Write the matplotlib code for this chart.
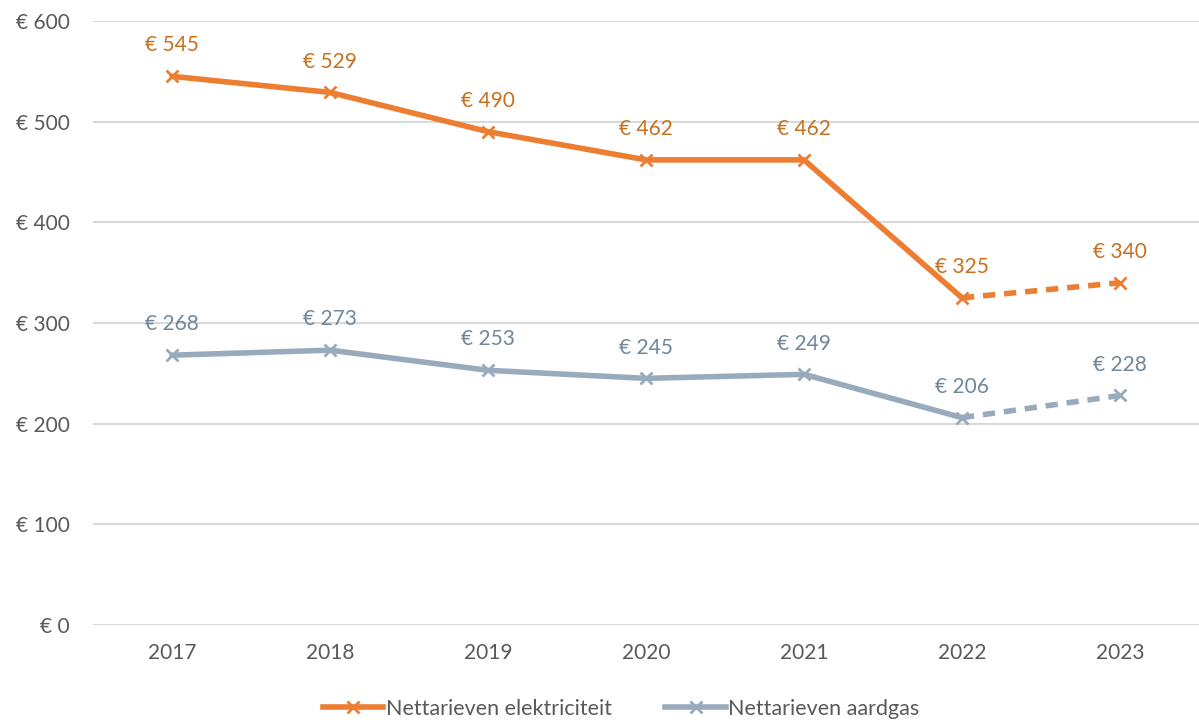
import numpy as np
import matplotlib.pyplot as plt
from matplotlib.lines import Line2D

# data
jaren = ['2017', '2018', '2019', '2020', '2021', '2022', '2023']
elektriciteit = [545, 529, 490, 462, 462, 325, 340]
aardgas = [268, 273, 253, 245, 249, 206, 228]
yticks = [0, 100, 200, 300, 400, 500, 600]

oranje = '#ED7D31'
oranje_tekst = '#C5711F'
grijs = '#97ABBD'
grijs_tekst = '#6F8799'

plt.rcParams['font.family'] = ['Lato', 'DejaVu Sans']

fig = plt.figure(figsize=(11.99, 7.22), dpi=100)
ax = fig.add_axes([0.0776, 0.1343, 0.9224, 0.8367])

x = np.arange(len(jaren))
n = len(jaren) - 2  # laatste stuk gestippeld


def teken(waarden, kleur, tekstkleur):
    ax.plot(x[:n + 1], waarden[:n + 1], color=kleur, lw=4, solid_capstyle='round', zorder=3)
    ax.plot(x[n:], waarden[n:], color=kleur, lw=4, ls=(0, (2.2, 1.6)), zorder=3)
    ax.plot(x, waarden, ls='none', marker='x', ms=9, mew=2, color=kleur, zorder=4)
    for xi, v in zip(x, waarden):
        ax.annotate(f'€ {v}', (xi, v), xytext=(0, 15), textcoords='offset points',
                    ha='center', va='bottom', fontsize=15, color=tekstkleur)


teken(elektriciteit, oranje, oranje_tekst)
teken(aardgas, grijs, grijs_tekst)

ax.set_xlim(-0.5, 6.5)
ax.set_ylim(0, 600)
ax.set_yticks(yticks)
ax.set_yticklabels([f'€ {t}' for t in yticks])
ax.set_xticks(x)
ax.set_xticklabels(jaren)
ax.grid(axis='y', color='#D9D9D9', lw=1.5)
ax.set_axisbelow(True)
for s in ax.spines.values():
    s.set_visible(False)
ax.tick_params(length=0, labelsize=15, colors='#595959', pad=13)
ax.tick_params(axis='y', pad=17)

handles = [
    Line2D([], [], color=oranje, lw=4, marker='x', ms=9, mew=2),
    Line2D([], [], color=grijs, lw=4, marker='x', ms=9, mew=2),
]
fig.legend(handles, ['Nettarieven elektriciteit', 'Nettarieven aardgas'],
           loc='center', bbox_to_anchor=(0.518, 0.018), ncol=2, frameon=False,
           fontsize=15.5, labelcolor='#595959', handlelength=2.8, handletextpad=0.1,
           columnspacing=2.5)

fig.savefig('out.png', dpi=100)
